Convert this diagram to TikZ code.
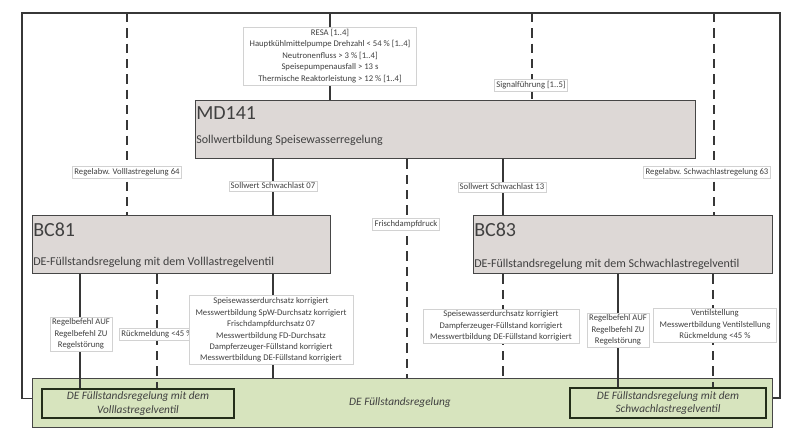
\documentclass[tikz,border=0pt]{standalone}
\usepackage{fontspec}
\setmainfont{Carlito}
\definecolor{boxf}{RGB}{221,216,214}
\definecolor{greenf}{RGB}{215,228,190}
\definecolor{linec}{RGB}{55,55,55}
\definecolor{boxb}{RGB}{70,70,70}
\definecolor{innerb}{RGB}{35,45,25}
\definecolor{txt}{RGB}{64,64,64}
\begin{document}
\begin{tikzpicture}[x=0.75pt,y=-0.75pt,
  conn/.style={draw=linec, line width=1.1pt},
  dconn/.style={conn, dash pattern=on 7pt off 4.5pt},
  blockbox/.style={draw=boxb, line width=1.1pt, fill=boxf, anchor=north west, inner sep=0pt},
  greenbox/.style={draw=boxb, line width=1.1pt, fill=greenf, anchor=north west, inner sep=0pt},
  innerbox/.style={draw=innerb, line width=1.5pt, anchor=north west, inner sep=0pt, align=center,
     font=\fontsize{8.5}{10}\selectfont\itshape, text=txt},
  titletxt/.style={anchor=west, inner sep=0pt, font=\fontsize{15}{18}\selectfont, text=txt},
  subtxt/.style={anchor=west, inner sep=0pt, font=\fontsize{9}{11}\selectfont, text=txt},
  lbl/.style={draw=gray!35, line width=0.3pt, fill=white, font=\fontsize{6.5}{8.6}\selectfont,
     text=txt, align=center, inner sep=1.5pt},
]
\useasboundingbox (0,0) rectangle (788,432);

% main blocks
\node[blockbox, minimum width=375pt, minimum height=43.5pt] (md) at (195,100) {};
\node[blockbox, minimum width=223.5pt, minimum height=43.5pt] (bca) at (32,215) {};
\node[blockbox, minimum width=224.25pt, minimum height=43.5pt] (bcb) at (473,215) {};
\node[greenbox, minimum width=555pt, minimum height=36.75pt] (green) at (32,378) {};
\node[innerbox, minimum width=144pt, minimum height=21.75pt] (inl) at (41,388)
  {DE Füllstandsregelung mit dem\\Volllastregelventil};
\node[innerbox, minimum width=147pt, minimum height=22.5pt] (inr) at (569,387)
  {DE Füllstandsregelung mit dem\\Schwachlastregelventil};
\node[inner sep=0pt, font=\fontsize{8.5}{10}\selectfont\itshape, text=txt] (gt) at (400,403) {DE Füllstandsregelung};

% block texts
\node[titletxt] (mdT) at (196,113) {MD141};
\node[subtxt] (mdS) at (196,140) {Sollwertbildung Speisewasserregelung};
\node[titletxt] (bcaT) at (33,230) {BC81};
\node[subtxt] (bcaS) at (33,262) {DE-Füllstandsregelung mit dem Volllastregelventil};
\node[titletxt] (bcbT) at (474,230) {BC83};
\node[subtxt] (bcbS) at (474,264) {DE-Füllstandsregelung mit dem Schwachlastregelventil};

% frame coordinates
\coordinate (TL) at (22,13);
\coordinate (TR) at (780,13);
\coordinate (tA) at (127,13);
\coordinate (tB) at (330,13);
\coordinate (tC) at (532,13);
\coordinate (tD) at (714,13);
\coordinate (xa) at (273,0);
\coordinate (xb) at (407,0);
\coordinate (xc) at (503,0);
\coordinate (xd) at (80,0);
\coordinate (xe) at (157,0);
\coordinate (xf) at (618,0);
\coordinate (xg) at (713,0);

% frame
\draw[conn] ([yshift=3.4pt]green.west) -| (TL) -- (TR) |- ([yshift=3.8pt]green.east);

% connectors from top
\draw[dconn] (tA) -- (tA |- bca.north);
\draw[conn] (tB) -- (tB |- md.north);
\draw[dconn] (tC) -- (tC |- md.north);
\draw[dconn] (tD) -- (tD |- bcb.north);

% from MD141
\draw[conn] (xa |- md.south) -- (xa |- bca.north);
\draw[dconn] (xb |- md.south) -- (xb |- green.north);
\draw[conn] (xc |- md.south) -- (xc |- bcb.north);

% from BC81
\draw[conn] (xd |- bca.south) -- (xd |- inl.north);
\draw[dconn] (xe |- bca.south) -- (xe |- inl.north);
\draw[conn] (xa |- bca.south) -- (xa |- green.north);

% from BC83
\draw[dconn] (xc |- bcb.south) -- (xc |- green.north);
\draw[conn] (xf |- bcb.south) -- (xf |- inr.north);
\draw[dconn] (xg |- bcb.south) -- (xg |- inr.north);

% labels
\node[lbl, minimum width=130pt, minimum height=42pt] (l1) at (330,56)
  {RESA [1..4]\\Hauptkühlmittelpumpe Drehzahl < 54 \% [1..4]\\Neutronenfluss > 3 \% [1..4]\\Speisepumpenausfall > 13 s\\Thermische Reaktorleistung > 12 \% [1..4]};
\node[lbl] (l2) at (531,85) {Signalführung [1..5]};
\node[lbl] (l3) at (127,172) {Regelabw. Volllastregelung 64};
\node[lbl] (l4) at (707,172) {Regelabw. Schwachlastregelung 63};
\node[lbl] (l5) at (273,186) {Sollwert Schwachlast 07};
\node[lbl] (l6) at (502,187) {Sollwert Schwachlast 13};
\node[lbl] (l7) at (406,224) {Frischdampfdruck};
\node[lbl] (l8) at (81,334) {Regelbefehl AUF\\Regelbefehl ZU\\Regelstörung};
\node[lbl] (l9) at (157,334) {Rückmeldung <45 \%};
\node[lbl, minimum width=123pt] (l10) at (271,330)
  {Speisewasserdurchsatz korrigiert\\Messwertbildung SpW-Durchsatz korrigiert\\Frischdampfdurchsatz 07\\Messwertbildung FD-Durchsatz\\Dampferzeuger-Füllstand korrigiert\\Messwertbildung DE-Füllstand korrigiert};
\node[lbl, minimum width=117pt] (l11) at (501,326)
  {Speisewasserdurchsatz korrigiert\\Dampferzeuger-Füllstand korrigiert\\Messwertbildung DE-Füllstand korrigiert};
\node[lbl] (l12) at (618,330) {Regelbefehl AUF\\Regelbefehl ZU\\Regelstörung};
\node[lbl, minimum width=92pt] (l13) at (715,325) {Ventilstellung\\Messwertbildung Ventilstellung\\Rückmeldung <45 \%};
\end{tikzpicture}
\end{document}
